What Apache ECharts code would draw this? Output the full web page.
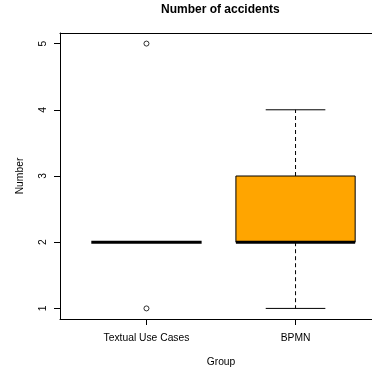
<!DOCTYPE html>
<html>
<head>
<meta charset="utf-8">
<script src="https://cdn.jsdelivr.net/npm/echarts@6/dist/echarts.min.js"></script>
<style>html,body{margin:0;padding:0;background:#fff;overflow:hidden}#c{width:372px;height:370px}</style>
</head>
<body>
<div id="c"></div>
<script>
const categories = ['Textual Use Cases', 'BPMN'];
const lowerWhisker = [2, 1];
const q1 = [2, 2];
const median = [2, 2];
const q3 = [2, 3];
const upperWhisker = [2, 4];
const outlierGroup = [1, 1];
const outlierValues = [5, 1];
const yTicks = [1, 2, 3, 4, 5];
const xTicks = [1, 2];

const boxData = categories.map((c, i) => [i + 1, lowerWhisker[i], q1[i], median[i], q3[i], upperWhisker[i]]);
const outlierData = outlierGroup.map((g, i) => [g, outlierValues[i]]);

const chart = echarts.init(document.getElementById('c'), null, {renderer: 'canvas'});
const FONT = 'Liberation Sans, Arial, sans-serif';
const FS = 10.3;

function renderBox(params, api) {
  const x = api.value(0), lo = api.value(1), a = api.value(2), m = api.value(3), b = api.value(4), hi = api.value(5);
  const children = [];
  const hw = 0.4, cw = 0.2;
  const P = (xx, yy) => api.coord([xx, yy]);
  const dashed = {stroke: '#000', lineWidth: 1, lineDash: [4, 3]};
  const solid = {stroke: '#000', lineWidth: 1};
  if (b > a) {
    const p1 = P(x - hw, b), p2 = P(x + hw, a);
    children.push({type: 'rect', shape: {x: p1[0], y: p1[1], width: p2[0] - p1[0], height: p2[1] - p1[1]}, style: {fill: '#FFA500', stroke: '#000', lineWidth: 1}});
  }
  if (hi > b) {
    const s = P(x, b), e = P(x, hi);
    children.push({type: 'line', shape: {x1: s[0], y1: s[1], x2: e[0], y2: e[1]}, style: dashed});
    const c1 = P(x - cw, hi), c2 = P(x + cw, hi);
    children.push({type: 'line', shape: {x1: c1[0], y1: c1[1], x2: c2[0], y2: c2[1]}, style: solid});
  }
  if (lo < a) {
    const s = P(x, a), e = P(x, lo);
    children.push({type: 'line', shape: {x1: s[0], y1: s[1], x2: e[0], y2: e[1]}, style: dashed});
    const c1 = P(x - cw, lo), c2 = P(x + cw, lo);
    children.push({type: 'line', shape: {x1: c1[0], y1: c1[1], x2: c2[0], y2: c2[1]}, style: solid});
  }
  const mw = b > a ? hw : 0.37;
  const m1 = P(x - mw, m), m2 = P(x + mw, m);
  children.push({type: 'line', shape: {x1: m1[0], y1: m1[1], x2: m2[0], y2: m2[1]}, style: {stroke: '#000', lineWidth: 3, lineCap: 'butt'}});
  return {type: 'group', children};
}

const textStyle = {fontSize: FS, fontFamily: FONT, color: '#000'};

chart.setOption({
  animation: false,
  backgroundColor: '#fff',
  title: {
    text: 'Number of accidents',
    left: 161, top: 4, padding: 0,
    textStyle: {fontFamily: FONT, fontSize: 12, fontWeight: 'bold', color: '#000'}
  },
  grid: {left: 60, top: 33, width: 322, height: 286, outerBoundsMode: 'none', containLabel: false, show: false},
  xAxis: [{
    type: 'value', min: 0.42, max: 2.58, position: 'bottom',
    axisLine: {show: true, onZero: false, lineStyle: {color: '#000', width: 1}}, splitLine: {show: false},
    axisTick: {show: true, customValues: xTicks, length: 6, lineStyle: {color: '#000'}},
    axisLabel: Object.assign({customValues: xTicks, formatter: v => categories[Math.round(v) - 1], margin: 14}, textStyle),
    name: 'Group', nameLocation: 'middle', nameGap: 38,
    nameTextStyle: textStyle
  }, {
    type: 'value', min: 0.42, max: 2.58, position: 'top',
    axisLine: {show: true, onZero: false, lineStyle: {color: '#000', width: 1}}, splitLine: {show: false},
    axisTick: {show: false}, axisLabel: {show: false}
  }],
  yAxis: {
    type: 'value', min: 0.84, max: 5.16,
    axisLine: {show: true, onZero: false, lineStyle: {color: '#000', width: 1}}, splitLine: {show: false},
    axisTick: {show: true, customValues: yTicks, length: 6, lineStyle: {color: '#000'}},
    axisLabel: Object.assign({customValues: yTicks, rotate: 90, margin: 12}, textStyle),
    name: 'Number', nameLocation: 'middle', nameGap: 35, nameRotate: 90,
    nameTextStyle: textStyle
  },
  series: [
    {type: 'custom', renderItem: renderBox, data: boxData, encode: {x: 0, y: [1, 2, 3, 4, 5]}, silent: true},
    {type: 'scatter', data: outlierData, symbol: 'circle', symbolSize: 5, itemStyle: {color: 'transparent', borderColor: '#000', borderWidth: 1}, silent: true}
  ]
});
</script>
</body>
</html>
